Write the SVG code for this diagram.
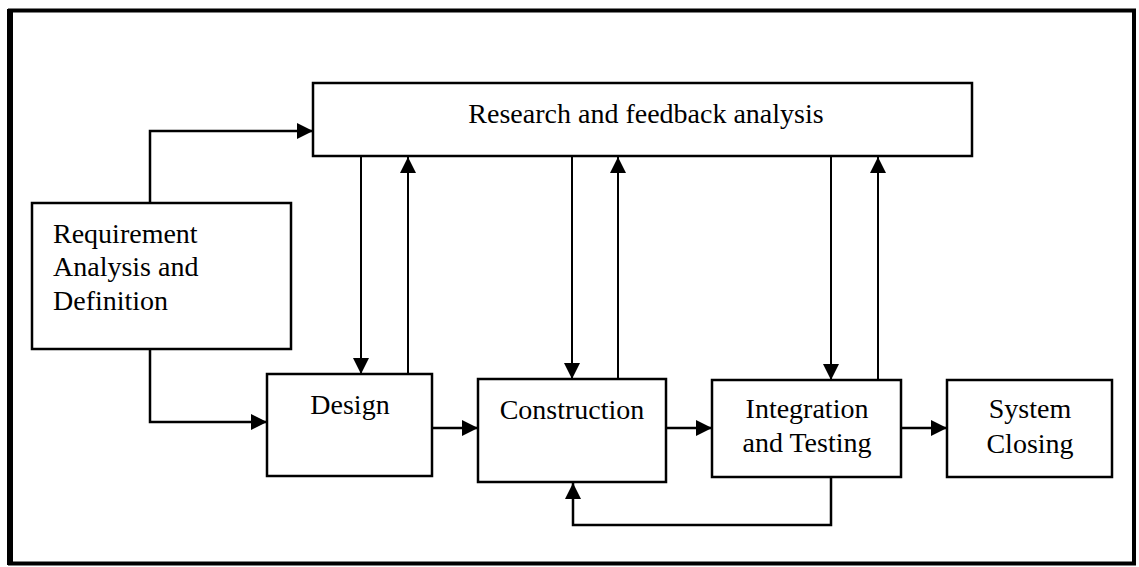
<svg xmlns="http://www.w3.org/2000/svg" width="1139" height="567" viewBox="0 0 1139 567">
<style>
.box{fill:#fff;stroke:#000;stroke-width:2.5}
.lbl{font-family:"Liberation Serif","Times New Roman",serif;font-size:28px;fill:#000}
.c{text-anchor:middle}
.con{fill:none;stroke:#000;stroke-width:2}
.h{stroke-width:2.5}
</style>
<defs>
<marker id="arr" viewBox="0 0 16 16" refX="16" refY="8" markerWidth="16" markerHeight="16" markerUnits="userSpaceOnUse" orient="auto">
<path d="M0,0 L16,8 L0,16 Z" fill="#000"/>
</marker>
</defs>
<rect width="1139" height="567" fill="#fff"/>
<rect x="10" y="10.5" width="1124" height="553" fill="none" stroke="#000" stroke-width="4"/>
<line x1="10" y1="9" x2="10" y2="565" stroke="#000" stroke-width="6"/>
<g id="connectors">
<path class="con h" d="M150,203 V131 H313" marker-end="url(#arr)"/>
<path class="con h" d="M150,349 V422 H267" marker-end="url(#arr)"/>
<path class="con" d="M361,156 V374" marker-end="url(#arr)"/>
<path class="con" d="M408,374 V157" marker-end="url(#arr)"/>
<path class="con" d="M572,156 V379" marker-end="url(#arr)"/>
<path class="con" d="M618,379 V157" marker-end="url(#arr)"/>
<path class="con" d="M831,156 V380" marker-end="url(#arr)"/>
<path class="con" d="M878,380 V157" marker-end="url(#arr)"/>
<path class="con h" d="M432,428 H478" marker-end="url(#arr)"/>
<path class="con h" d="M666,428 H712" marker-end="url(#arr)"/>
<path class="con h" d="M901,428 H947" marker-end="url(#arr)"/>
<path class="con h" d="M831,477 V525 H573 V483" marker-end="url(#arr)"/>
</g>
<g id="research">
<rect class="box" x="313" y="83" width="659" height="73"/>
<text class="lbl c" x="646" y="123">Research and feedback analysis</text>
</g>
<g id="requirement">
<rect class="box" x="32" y="203" width="259" height="146"/>
<text class="lbl" x="53" y="243">Requirement</text>
<text class="lbl" x="53" y="276">Analysis and</text>
<text class="lbl" x="53" y="310">Definition</text>
</g>
<g id="design">
<rect class="box" x="267" y="374" width="165" height="102"/>
<text class="lbl c" x="350" y="414">Design</text>
</g>
<g id="construction">
<rect class="box" x="478" y="379" width="188" height="103"/>
<text class="lbl c" x="572" y="419">Construction</text>
</g>
<g id="integration">
<rect class="box" x="712" y="380" width="189" height="97"/>
<text class="lbl c" x="807" y="418">Integration</text>
<text class="lbl c" x="807" y="452">and Testing</text>
</g>
<g id="system">
<rect class="box" x="947" y="380" width="165" height="97"/>
<text class="lbl c" x="1030" y="418">System</text>
<text class="lbl c" x="1030" y="453">Closing</text>
</g>
</svg>
